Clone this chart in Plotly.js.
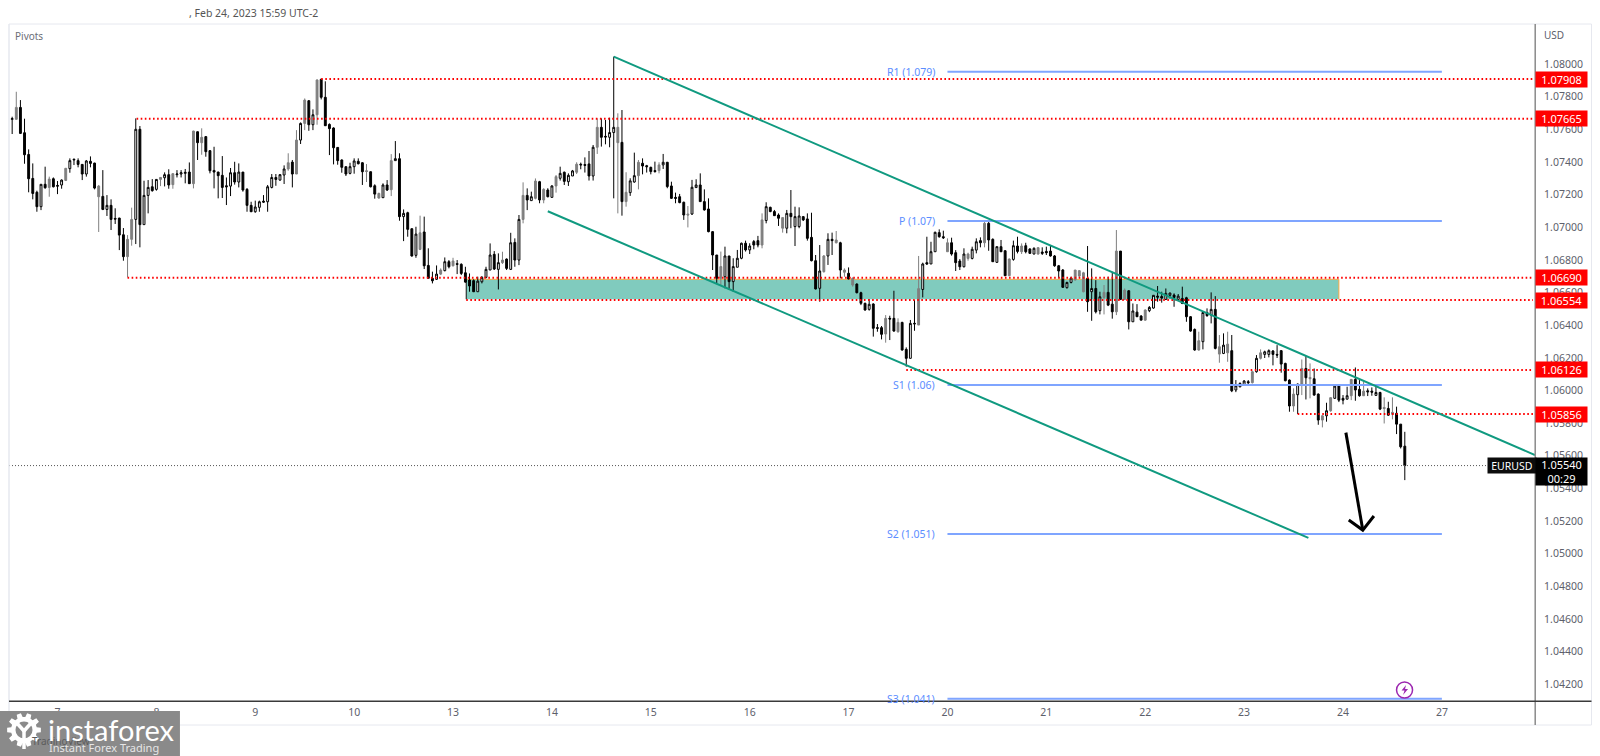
<!DOCTYPE html>
<html><head><meta charset="utf-8">
<script src="https://cdn.plot.ly/plotly-3.0.1.min.js"></script>
<style>html,body{margin:0;padding:0;background:#fff}#chart{width:1600px;height:756px}</style>
</head><body><div id="chart"></div>
<script>
// Hourly EURUSD bars, prices in points (1 point = 0.00001)
const openPts = [107661,107661,107734,107579,107446,107299,107214,107126,107263,107244,
107297,107256,107259,107287,107359,107412,107408,107385,107326,107404,
107393,107252,107189,107109,107134,107054,107056,106954,106820,106926,
107048,107600,107016,107195,107248,107232,107293,107303,107322,107261,
107322,107326,107330,107338,107267,107585,107518,107555,107469,107348,
107338,107318,107254,107252,107334,107277,107338,107232,107134,107095,
107122,107160,107156,107244,107305,107289,107320,107357,107399,107326,
107534,107636,107775,107628,107689,107906,107796,107630,107608,107489,
107412,107371,107330,107371,107404,107395,107346,107340,107254,107207,
107181,107259,107230,107408,107420,107065,107089,106991,106828,106864,
106971,106766,106687,106681,106713,106734,106789,106764,106777,106773,
106721,106677,106673,106605,106666,106693,106738,106834,106742,106783,
106805,106742,106907,106799,107048,107195,107163,107177,
107279,107232,107228,107183,107253,107300,107337,107279,107314,107337,
107386,107384,107388,107314,107490,107612,107557,107551,107580,107612,
107520,107157,107212,107277,107316,107392,107377,107367,107347,107347,
107382,107398,107253,107183,107187,107153,107081,107081,107243,107259,
107157,107112,106973,106830,106687,106697,106824,106667,106755,106810,
106902,106861,106912,106918,106891,107041,107122,107096,107075,107059,
106994,107085,107004,107004,107065,107051,
106938,106795,106626,106728,106824,106926,106905,106905,106738,106718,
106687,106652,106599,106534,106497,106530,106385,106385,106346,106442,
106442,106360,106417,106252,106197,106407,106401,106619,106783,106775,
106850,106967,106942,106850,106905,106844,106793,106758,106836,106809,
106860,106918,106905,107024,106926,106785,106881,106856,106703,106803,
106885,106850,106887,106867,106836,106836,106848,106852,106854,106824,
106764,106738,106630,106662,106677,106734,
106721,106687,106605,106625,106489,106570,106601,106529,106482,106854,
106558,106611,106421,106480,106456,106431,106489,106505,106578,106576,
106558,106583,106585,106558,106564,106568,106452,106374,106248,106299,
106478,106462,106497,106268,106227,106231,106244,106003,106023,106033,
106054,106048,106115,106197,106221,106221,106242,106221,106244,106166,
106064,105905,105974,106039,106135,106080,106072,105978,105845,105845,
105876,105952,106029,105952,105947,105968,106068,106007,105968,105998,
105996,105970,105988,105896,105890,105866,105860,105794,105659];
const highPts = [107677,107830,107779,107665,107477,107391,107224,107263,107371,107310,
107305,107283,107293,107363,107422,107420,107422,107387,107412,107434,
107395,107259,107350,107197,107171,107116,107058,106995,106952,107120,
107667,107620,107285,107289,107295,107293,107305,107336,107355,107332,
107350,107350,107357,107397,107591,107587,107606,107559,107473,107493,
107340,107436,107305,107363,107401,107391,107338,107240,107156,107163,
107163,107197,107259,107326,107326,107326,107379,107453,107412,107595,
107642,107789,107779,107722,107906,107910,107894,107636,107612,107491,
107416,107371,107395,107422,107422,107399,107387,107342,107263,107212,
107269,107289,107448,107528,107453,107109,107095,106993,107003,107071,
107065,106871,106728,106766,106748,106815,106799,106813,106799,106779,
106758,106717,106681,106697,106701,106758,106901,106854,106840,106850,
106809,106966,106932,107075,107275,107238,107218,107299,
107284,107239,107239,107257,107320,107371,107341,107330,107351,107398,
107396,107428,107467,107504,107667,107667,107657,107671,108045,107698,
107718,107337,107300,107457,107412,107422,107382,107371,107402,107398,
107449,107400,107279,107212,107204,107157,107130,107290,107294,107330,
107232,107177,106977,106830,106851,106881,106824,106810,106861,106906,
106918,106902,106922,106947,107085,107153,107126,107106,107085,107059,
107106,107228,107126,107122,107069,107085,
107089,106830,106891,106830,106963,106967,106977,106911,106748,106754,
106693,106656,106605,106538,106560,106534,106407,106395,106462,106458,
106611,106442,106421,106264,106432,106554,106824,106783,106942,106911,
106973,106987,106979,106932,106936,106860,106805,106871,106844,106881,
106932,106938,107040,107044,106932,106881,106922,106860,106809,106918,
106942,106901,106905,106871,106877,106877,106877,106881,106891,106830,
106769,106744,106666,106697,106738,106738,
106727,106885,106748,106676,106605,106646,106697,106727,106983,106854,
106625,106615,106533,106529,106462,106497,106517,106585,106640,106605,
106625,106599,106595,106591,106636,106574,106456,106380,106360,106482,
106503,106601,106578,106340,106350,106360,106340,106064,106050,106064,
106064,106121,106217,106252,106244,106252,106248,106278,106248,106170,
106068,106013,106043,106190,106211,106166,106135,105982,105849,105925,
105958,106031,106033,105972,106023,106068,106141,106064,106054,106013,
106019,106029,105992,105958,105931,105958,105901,105794,105747];
const lowPts = [107571,107661,107571,107389,107214,107171,107095,107105,107236,107187,
107244,107203,107236,107283,107334,107381,107367,107289,107310,107367,
107232,106971,107105,107069,106983,107020,106860,106795,106693,106887,
106897,106877,107016,107085,107218,107224,107252,107250,107236,107236,
107305,107305,107269,107265,107238,107412,107444,107432,107330,107238,
107177,107179,107136,107191,107261,107244,107218,107095,107095,107089,
107095,107150,107095,107238,107254,107285,107265,107346,107244,107326,
107510,107595,107591,107595,107628,107783,107620,107442,107385,107383,
107334,107314,107324,107328,107385,107259,107277,107244,107175,107175,
107179,107222,107191,107408,107040,106915,106942,106820,106813,106860,
106744,106687,106656,106677,106707,106730,106748,106760,106713,106707,
106660,106605,106603,106605,106656,106687,106738,106738,106619,106775,
106738,106738,106758,106768,107024,107105,107163,107171,
107147,107147,107183,107183,107212,107286,107259,107253,107314,107326,
107355,107335,107286,107286,107449,107494,107508,107490,107177,107085,
107071,107126,107192,107273,107232,107324,107335,107324,107335,107330,
107357,107239,107173,107147,107147,107045,106999,107075,107243,107157,
107102,106969,106738,106657,106646,106626,106616,106606,106755,106804,
106851,106836,106865,106877,106871,107024,107092,107071,107008,106967,
106963,106994,106885,106994,107038,106918,
106791,106619,106544,106722,106769,106830,106901,106687,106697,106681,
106636,106595,106523,106489,106489,106330,106360,106313,106293,106309,
106360,106354,106244,106146,106197,106366,106401,106570,106769,106775,
106850,106936,106928,106850,106826,106732,106738,106754,106795,106803,
106840,106877,106877,106856,106787,106783,106848,106701,106701,106795,
106840,106836,106840,106836,106834,106832,106830,106830,106820,106758,
106687,106628,106624,106656,106673,106687,
106601,106482,106427,106472,106466,106466,106517,106440,106462,106554,
106554,106374,106421,106450,106431,106427,106480,106501,106544,106538,
106554,106564,106513,106550,106529,106421,106360,106244,106244,106252,
106452,106411,106252,106170,106223,106176,105990,105990,106019,106029,
106035,106043,106109,106190,106199,106203,106154,106199,106109,106056,
105870,105870,105856,105972,105945,105952,105968,105790,105774,105809,
105870,105949,105929,105915,105945,105941,105937,105962,105966,105966,
105968,105968,105880,105798,105845,105823,105733,105645,105451];
const closePts = [107665,107734,107575,107444,107297,107207,107126,107263,107242,107295,
107248,107252,107289,107361,107408,107416,107385,107326,107406,107391,
107240,107187,107109,107134,107048,107050,106952,106820,106926,107048,
107600,107016,107195,107244,107224,107293,107305,107322,107259,107328,
107326,107334,107336,107267,107589,107518,107551,107463,107346,107338,
107316,107244,107248,107334,107277,107338,107228,107134,107095,107124,
107156,107154,107248,107305,107293,107322,107357,107395,107326,107534,
107636,107779,107628,107689,107902,107796,107622,107604,107487,107408,
107367,107326,107371,107406,107389,107340,107342,107248,107203,107179,
107259,107228,107408,107420,107065,107085,106987,106824,106958,106966,
106764,106687,106672,106713,106738,106789,106758,106793,106773,106717,
106664,106640,106605,106670,106693,106742,106830,106744,106783,106799,
106748,106905,106799,107048,107195,107167,107187,107283,
107167,107167,107187,107253,107310,107330,107281,107318,107345,107386,
107382,107379,107314,107490,107612,107551,107553,107580,107612,107518,
107157,107214,107284,107316,107398,107375,107371,107341,107341,107382,
107398,107249,107177,107177,107151,107075,107075,107245,107259,107157,
107106,106973,106830,106687,106759,106824,106667,106759,106810,106902,
106861,106885,106891,106891,107045,107126,107096,107071,107055,106994,
107085,107065,107065,107069,107045,106932,
106795,106622,106732,106824,106926,106918,106922,106738,106724,106683,
106646,106599,106534,106493,106528,106381,106381,106344,106442,106438,
106364,106417,106248,106197,106411,106411,106624,106775,106775,106850,
106969,106942,106936,106905,106836,106783,106758,106836,106809,106865,
106911,106905,107024,106922,106789,106881,106850,106703,106805,106887,
106852,106885,106850,106840,106871,106875,106840,106844,106824,106764,
106732,106632,106662,106689,106738,106701,
106605,106544,106625,106482,106574,106601,106523,106482,106854,106558,
106615,106421,106487,106452,106431,106493,106509,106583,106572,106566,
106595,106597,106570,106578,106533,106452,106364,106248,106305,106478,
106458,106497,106258,106223,106278,106284,105998,106029,106043,106058,
106048,106115,106197,106231,106237,106244,106221,106217,106162,106060,
105905,105978,106039,106135,106078,106072,105972,105819,105819,105876,
105956,106027,105941,105941,105968,106068,106003,105968,105996,105992,
105990,105988,105886,105890,105849,105854,105794,105655,105540];
// Bars that print as solid grey in the reference
const greyBars = [2,10,14,22,29,30,37,40,45,47,68,70,72,75,87,90,93,100,105,108,120,125,128,
130,133,138,143,148,150,153,158,165,173,183,188,198,201,203,205,213,216,221,228,233,237,243,246,250,259,260,
261,266,269,271,276,289,294,296,302,304,312,314,316,319,321,326,329,334,336];

const dayLabels = ["7","8","9","10","13","14","15","16","17","20","21","22","23","24","27"];
const dayBars = [12,36,60,84,108,132,156,180,204,228,252,276,300,324,348];
const priceTicks = [1.042,1.044,1.046,1.048,1.05,1.052,1.054,1.056,1.058,1.06,1.062,1.064,1.066,1.068,1.07,1.072,1.074,1.076,1.078,1.08];

// red horizontal levels: price and first bar
const levelPrices = [1.07908,1.07665,1.0669,1.06554,1.06126,1.05856];
const levelStartBars = [76,31.2,29,111.2,218,313];
// pivots
const pivotLabels = ["R1 (1.079)","P (1.07)","S1 (1.06)","S2 (1.051)","S3 (1.041)"];
const pivotPrices = [1.07953,1.07038,1.06034,1.05121,1.04112];
const pivotStartBar = 228, pivotEndBar = 348;
const lastPrice = 1.0554;
// channel lines
const upperChannelBars = [147,370.6], upperChannelPrices = [1.08045,1.05605];
const lowerChannelBars = [131,315.6], lowerChannelPrices = [1.07098,1.05097];
// zone
const zoneBars = [111.2,323], zonePrices = [1.06559,1.06681];
// arrow
const arrowBars = [324.7,328.8,null,325.4,328.8,331.5];
const arrowPrices = [1.05742,1.05145,null,1.05207,1.05145,1.05231];

const barX = openPts.map((_,i)=>i+1);
const P = v=>v/100000;
const isGrey = new Set(greyBars);
const pick = (arr,f)=>arr.filter((_,i)=>f(i+1));
const notGrey = n=>!isGrey.has(n), grey = n=>isGrey.has(n);
function candle(f,incFill,incLine,decFill,decLine){
  return {type:'candlestick',x:pick(barX,f),open:pick(openPts,f).map(P),high:pick(highPts,f).map(P),
    low:pick(lowPts,f).map(P),close:pick(closePts,f).map(P),whiskerwidth:0,hoverinfo:'skip',
    increasing:{fillcolor:incFill,line:{color:incLine,width:1}},
    decreasing:{fillcolor:decFill,line:{color:decLine,width:1}}};
}
const traces=[candle(notGrey,'#ffffff','#000000','#000000','#000000'),candle(grey,'#7f7f7f','#7f7f7f','#7f7f7f','#7f7f7f')];
const line=(x,y,color,width,dash)=>({type:'scatter',mode:'lines',x,y,hoverinfo:'skip',line:{color,width,dash:dash||'solid'},connectgaps:false});
const rightBar=370.6,leftBar=0.23;
traces.push(line([leftBar,rightBar],[lastPrice,lastPrice],'#555555',1,'1px,2px'));
pivotPrices.forEach(p=>traces.push(line([pivotStartBar,pivotEndBar],[p,p],'#7fa5ff',2)));
levelPrices.forEach((p,i)=>traces.push(line([levelStartBars[i],rightBar-0.5],[p,p],'#ff0000',2,'1.6px,2.5px')));
traces.push(line(upperChannelBars,upperChannelPrices,'#109a80',2));
traces.push(line(lowerChannelBars,lowerChannelPrices,'#109a80',2));
traces.push(line(arrowBars,arrowPrices,'#000000',3));

// pixel → paper helpers for chrome only
const L=9,R=1535.5,T=24,B=701;
const xp=px=>(px-L)/(R-L), yp=py=>(B-py)/(B-T);
const pth=pts=>'M'+pts.map(p=>xp(p[0]).toFixed(5)+','+yp(p[1]).toFixed(5)).join('L')+'Z';
const rectPx=(x0,y0,x1,y1,fill,layer)=>({type:'rect',xref:'paper',yref:'paper',x0:xp(x0),x1:xp(x1),y0:yp(y0),y1:yp(y1),fillcolor:fill,line:{width:0},layer:layer||'above'});
const linePx=(x0,y0,x1,y1,c,w)=>({type:'line',xref:'paper',yref:'paper',x0:xp(x0),x1:xp(x1),y0:yp(y0),y1:yp(y1),line:{color:c,width:w},layer:'above'});

// gear for the watermark
const gear=[];const cx=24,cy=730;
for(let i=0;i<10;i++){const a=i/10*2*Math.PI;
  [[-.21,13],[-.13,17],[.13,17],[.21,13]].forEach(o=>{gear.push([cx+o[1]*Math.cos(a+o[0]),cy+o[1]*Math.sin(a+o[0])])});
}
const shapes=[
 {type:'rect',xref:'x',yref:'y',x0:zoneBars[0],x1:zoneBars[1],y0:zonePrices[0],y1:zonePrices[1],fillcolor:'#80cbbe',line:{width:0},layer:'below'},
 {type:'line',xref:'x',yref:'y',x0:zoneBars[0],x1:zoneBars[1],y0:zonePrices[1],y1:zonePrices[1],line:{color:'#f5a945',width:1},layer:'below'},
 {type:'line',xref:'x',yref:'y',x0:zoneBars[1],x1:zoneBars[1],y0:zonePrices[0],y1:zonePrices[1],line:{color:'#f5a945',width:1},layer:'below'},
 {type:'line',xref:'x',yref:'y',x0:zoneBars[0],x1:zoneBars[0],y0:zonePrices[0],y1:zonePrices[1],line:{color:'#111111',width:1},layer:'below'},
 // frame
 linePx(9,24,1592,24,'#e6e8ef',1), linePx(9,24,9,725,'#e6e8ef',1.5), linePx(1592,24,1592,725,'#e6e8ef',1), linePx(9,725,1592,725,'#e6e8ef',1),
 linePx(1535.7,24,1535.7,725,'#8a8a8a',1.5), linePx(9,701.3,1592,701.3,'#3a3a3a',1.5),
 // signal icon
 {type:'circle',xref:'paper',yref:'paper',x0:xp(1397),x1:xp(1413),y0:yp(682),y1:yp(698),fillcolor:'#ffffff',line:{color:'#9c27b0',width:1.5},layer:'above'},
 {type:'path',xref:'paper',yref:'paper',path:pth([[1406.5,685],[1402,690.5],[1405,690.5],[1403.5,695],[1408.5,689],[1405.5,689]]),fillcolor:'#9c27b0',line:{width:0},layer:'above'},
 // watermark
 rectPx(0,711,180,756,'#8a8a8a'),
 {type:'path',xref:'paper',yref:'paper',path:pth(gear),fillcolor:'#ffffff',line:{width:0},layer:'above'},
 {type:'circle',xref:'paper',yref:'paper',x0:xp(cx-8.5),x1:xp(cx+8.5),y0:yp(cy-8.5),y1:yp(cy+8.5),fillcolor:'#8a8a8a',line:{width:0},layer:'above'},
 linePx(24,730,24,749,'#ffffff',3.5), linePx(24,731,16,722,'#ffffff',3.5), linePx(24,731,32,722,'#ffffff',3.5)
];

const FONT='"Noto Sans", sans-serif';
const paperAnn=(text,x,y,o)=>Object.assign({text,xref:'paper',yref:'paper',x:xp(x),y:yp(y),showarrow:false,xanchor:'left',yanchor:'middle',font:{family:FONT,size:10,color:'#5d606b'}},o||{});
const priceTag=(text,y,bg,o)=>Object.assign({text,xref:'paper',yref:'y',x:xp(1536),y,showarrow:false,xanchor:'left',yanchor:'middle',width:51,height:15,bgcolor:bg,borderpad:0,align:'center',font:{family:FONT,size:11,color:'#ffffff'}},o||{});
const annotations=[
 paperAnn(', Feb 24, 2023 15:59 UTC-2',187,13,{font:{family:FONT,size:10.5,color:'#555555'}}),
 paperAnn('Pivots',13,36,{font:{family:FONT,size:10,color:'#6b6e78'}}),
 paperAnn('USD',1543,35,{font:{family:FONT,size:10,color:'#5d606b'}}),
 ...pivotLabels.map((t,i)=>({text:t,xref:'paper',yref:'y',x:xp(937),y:pivotPrices[i],showarrow:false,xanchor:'right',yanchor:'middle',font:{family:FONT,size:10.5,color:'#5b8dff'}})),
 ...levelPrices.map(p=>priceTag(p.toFixed(5),p,'#ff0000')),
 {text:'EURUSD',xref:'paper',yref:'paper',x:xp(1487),y:yp(465.5),xanchor:'left',yanchor:'middle',showarrow:false,width:48,height:15,bgcolor:'#0c0c0c',borderpad:0,align:'center',font:{family:FONT,size:10.5,color:'#ffffff'}},
 {text:lastPrice.toFixed(5)+'<br>00:29',xref:'paper',yref:'paper',x:xp(1536),y:yp(471.5),xanchor:'left',yanchor:'middle',showarrow:false,width:51,height:27,bgcolor:'#000000',borderpad:0,align:'center',font:{family:FONT,size:11,color:'#ffffff'}},
 paperAnn('TradingView',30,741,{font:{family:FONT,size:10,color:'#5c5c5c'}}),
 paperAnn('instaforex',46,729,{font:{family:'Lato, sans-serif',size:29,color:'#ffffff'}}),
 paperAnn('Instant Forex Trading',47,747,{font:{family:FONT,size:11,color:'#e6e6e6'}})
];

const layout={width:1600,height:756,autosize:false,margin:{l:L,r:1600-R,t:T,b:756-B,pad:0},paper_bgcolor:'#ffffff',plot_bgcolor:'#ffffff',
 showlegend:false,boxgap:0.35,dragmode:false,hovermode:false,shapes,annotations,
 xaxis:{type:'linear',range:[leftBar,rightBar],tickmode:'array',tickvals:dayBars,ticktext:dayLabels,showgrid:false,zeroline:false,showline:false,
   rangeslider:{visible:false},ticks:'outside',ticklen:1,tickcolor:'rgba(0,0,0,0)',tickfont:{family:FONT,size:10.5,color:'#5d606b'}},
 yaxis:{side:'right',type:'linear',range:[1.04098,1.08245],tickmode:'array',tickvals:priceTicks,ticktext:priceTicks.map(v=>v.toFixed(5)),showgrid:false,zeroline:false,showline:false,
   ticks:'outside',ticklen:6,tickcolor:'rgba(0,0,0,0)',tickfont:{family:FONT,size:10.5,color:'#5d606b'}}};
Plotly.newPlot('chart',traces,layout,{displayModeBar:false,staticPlot:true});
</script></body></html>
